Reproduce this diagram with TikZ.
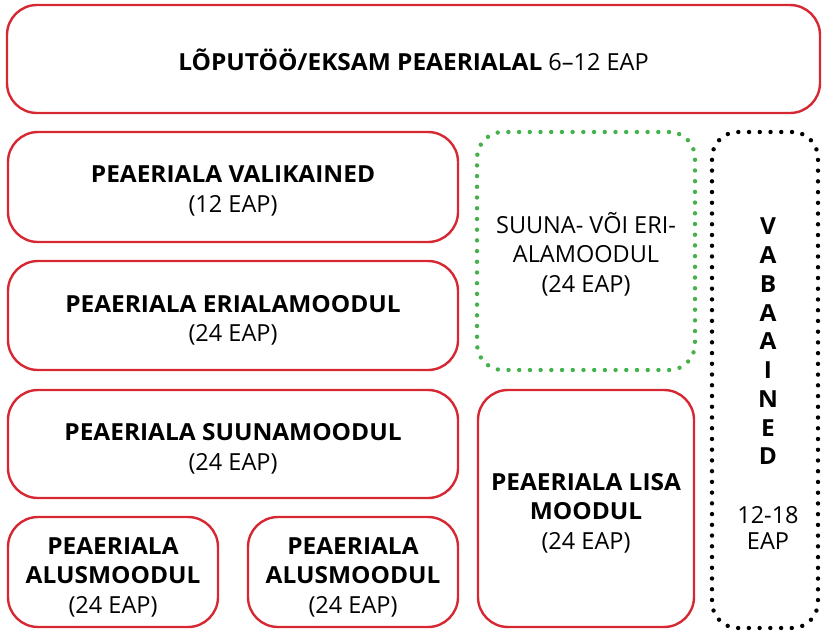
\documentclass[tikz,border=0pt]{standalone}
\usepackage{fontspec}
\setmainfont{Open Sans}[BoldFeatures={FakeStretch=1.04}]
\definecolor{boxred}{RGB}{214,40,50}
\definecolor{dotgreen}{RGB}{68,178,74}
\tikzset{
  redbox/.style={draw=boxred, line width=2.4pt, rounded corners=30pt, inner sep=0pt},
  dotbox/.style={line width=4.4pt, line cap=round, rounded corners=26pt, inner sep=0pt},
  txt/.style={align=center, inner sep=0pt, font=\fontsize{23.5}{29.5}\selectfont}
}
\begin{document}
\begin{tikzpicture}[x=1pt,y=-1pt]
\useasboundingbox (0,0) rectangle (822,630);
\node[redbox, minimum width=813pt, minimum height=108pt] (top) at (413.5,59) {};
\node[txt] (topt) at (413.5,60) {\textbf{LÕPUTÖÖ/EKSAM PEAERIALAL} 6–12 EAP};
\node[redbox, minimum width=450pt, minimum height=110pt] (vali) at (233,187) {};
\node[txt] (valit) at (233,191) {\textbf{PEAERIALA VALIKAINED}\\(12 EAP)};
\node[redbox, minimum width=450pt, minimum height=109pt] (eri) at (233,315.5) {};
\node[txt] (erit) at (233,320.5) {\textbf{PEAERIALA ERIALAMOODUL}\\(24 EAP)};
\node[redbox, minimum width=450pt, minimum height=108pt] (suuna) at (233,444) {};
\node[txt] (suunat) at (233,449) {\textbf{PEAERIALA SUUNAMOODUL}\\(24 EAP)};
\node[redbox, minimum width=210pt, minimum height=110pt] (alus1) at (113,572) {};
\node[txt] (alus1t) at (113,577) {\textbf{PEAERIALA}\\\textbf{ALUSMOODUL}\\(24 EAP)};
\node[redbox, minimum width=210pt, minimum height=110pt] (alus2) at (353,572) {};
\node[txt] (alus2t) at (353,577) {\textbf{PEAERIALA}\\\textbf{ALUSMOODUL}\\(24 EAP)};
\node[redbox, minimum width=216pt, minimum height=237pt] (lisa) at (586,508.5) {};
\node[txt] (lisat) at (586,513) {\textbf{PEAERIALA LISA}\\\textbf{MOODUL}\\(24 EAP)};
\node[dotbox, draw=dotgreen, dash pattern=on 0pt off 10.709pt, minimum width=218pt, minimum height=238pt] (suvo) at (586,251) {};
\node[txt] (suvot) at (586,254) {SUUNA- VÕI ERI-\\ALAMOODUL\\(24 EAP)};
\node[dotbox, draw=black, dash pattern=on 0pt off 10.735pt, minimum width=106pt, minimum height=496pt] (vaba) at (765,380) {};
\node[txt, font=\fontsize{23.5}{28.75}\selectfont] (vabat) at (768,384)
  {\textbf{V}\\\textbf{A}\\\textbf{B}\\\textbf{A}\\\textbf{A}\\\textbf{I}\\\textbf{N}\\\textbf{E}\\\textbf{D}\\[30.25pt]12-18\\[-2.75pt]EAP};
\end{tikzpicture}
\end{document}
